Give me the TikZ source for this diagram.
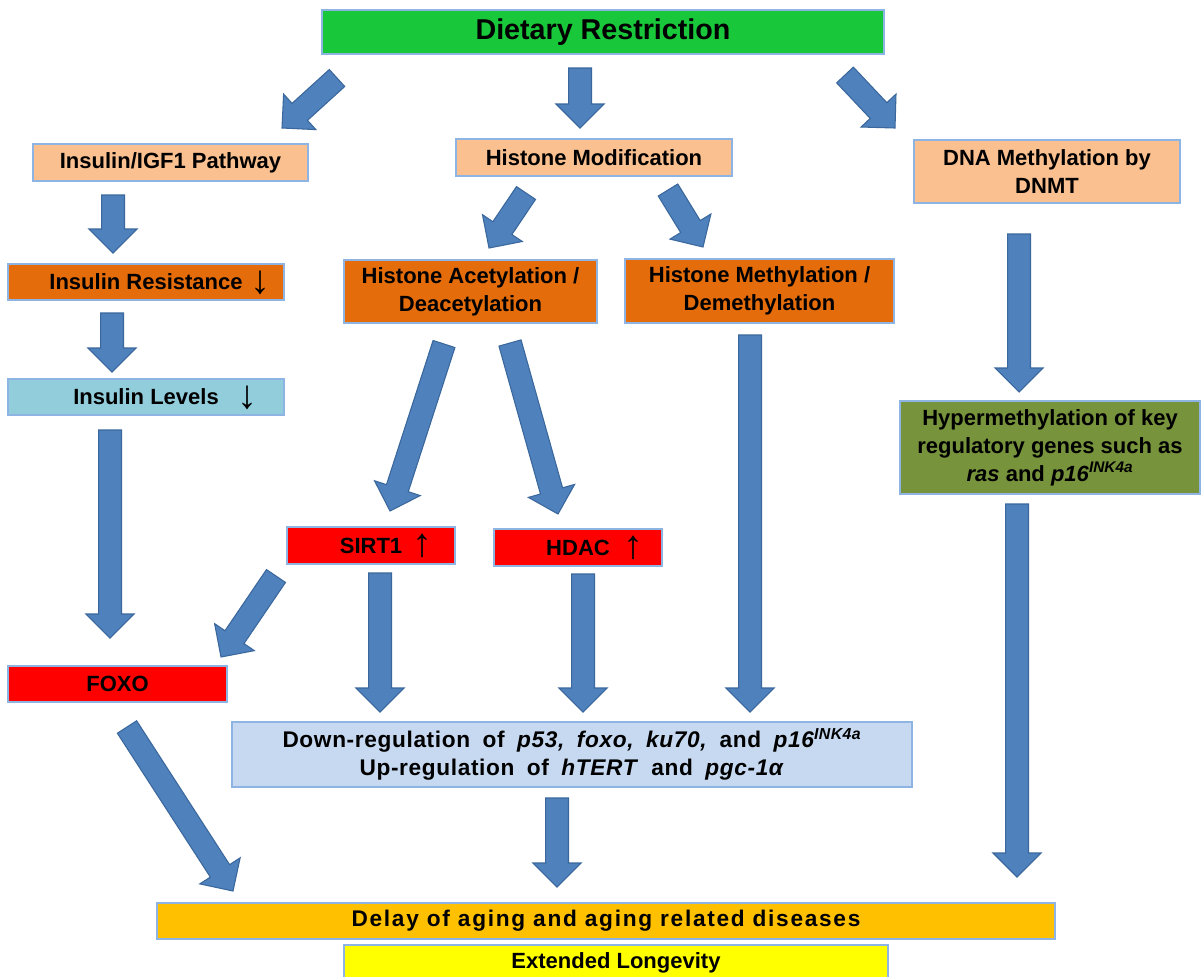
\documentclass[tikz,border=0pt]{standalone}
\usepackage{fontspec}
\setmainfont{Liberation Sans}
\newfontfamily\downfont[WordSpace=1.8,LetterSpace=2.8]{Liberation Sans}
\newfontfamily\delayfont[LetterSpace=7.5]{Liberation Sans}
\usetikzlibrary{calc}
\definecolor{drgreen}{HTML}{19C83A}
\definecolor{peach}{HTML}{FAC090}
\definecolor{orng}{HTML}{E46C0A}
\definecolor{ltblue}{HTML}{92CDDC}
\definecolor{olivegr}{HTML}{77933C}
\definecolor{redbox}{HTML}{FF0000}
\definecolor{downblue}{HTML}{C6D9F1}
\definecolor{delayc}{HTML}{FFC000}
\definecolor{extc}{HTML}{FFFF00}
\definecolor{boxedge}{HTML}{8EB4E3}
\definecolor{arrowfill}{HTML}{4F81BD}
\definecolor{arrowedge}{HTML}{3A679C}
% small up/down sign placed right of a centred label
\newcommand\updn[2]{\rlap{\hspace{#1}\smash{\raisebox{-2.5pt}{\fontsize{30pt}{30pt}\selectfont\bfseries #2}}}}
% block arrow: tail -> tip
\newcommand\barrow[2]{%
  \coordinate (bh) at ($(#2)!18pt!(#1)$);
  \draw[blockarrow] ($(#1)!8.6pt!90:(#2)$) -- ($(bh)!8.6pt!90:(#2)$) --
    ($(bh)!18pt!90:(#2)$) -- (#2) -- ($(bh)!18pt!-90:(#2)$) --
    ($(bh)!8.6pt!-90:(#2)$) -- ($(#1)!8.6pt!-90:(#2)$) -- cycle;}
\begin{document}
\begin{tikzpicture}[x=0.75pt,y=-0.75pt,
  box/.style={draw=boxedge, line width=0.8pt, inner sep=0pt,
    font=\bfseries\fontsize{16.5pt}{21pt}\selectfont},
  sz/.style 2 args={minimum width=#1*0.75pt, minimum height=#2*0.75pt},
  blockarrow/.style={fill=arrowfill, draw=arrowedge, line width=0.8pt, line join=miter}]
\useasboundingbox (0,0) rectangle (1201,976);
\clip (0,0) rectangle (1201,976);
\fill[white] (0,0) rectangle (1201,976);

% boxes (centre, width, height in px)
\node[box, fill=drgreen, sz={562}{44}, font=\bfseries\fontsize{21.5pt}{24pt}\selectfont] (dr) at (603,32) {Dietary Restriction};
\node[box, fill=peach, sz={275}{37}] (ins) at (170.5,162.5) {Insulin/IGF1 Pathway};
\node[box, fill=peach, sz={276}{37}] (hm) at (594,157.5) {Histone Modification};
\node[box, fill=peach, sz={266}{63}, align=center] (dna) at (1047,171.5) {DNA Methylation by\\DNMT};
\node[box, fill=orng, sz={276}{36}] (res) at (146,282) {Insulin Resistance\updn{6pt}{↓}};
\node[box, fill=ltblue, sz={276}{36}] (lev) at (146,397) {Insulin Levels\updn{14pt}{↓}};
\node[box, fill=orng, sz={253}{63}, align=center] (acet) at (470.5,291.5) {Histone Acetylation /\\Deacetylation};
\node[box, fill=orng, sz={269}{64}, align=center] (meth) at (759.5,291) {Histone Methylation /\\Demethylation};
\node[box, fill=olivegr, sz={300}{93}, align=center] (hyper) at (1050,447.5) {Hypermethylation of key\\regulatory genes such as\\\textit{ras} and \textit{p16}\textsuperscript{\textit{INK4a}}};
\node[box, fill=redbox, sz={168}{37}] (sirt) at (371,545.5) {SIRT1\updn{8pt}{↑}};
\node[box, fill=redbox, sz={168}{37}] (hdac) at (578,547.5) {HDAC\updn{10pt}{↑}};
\node[box, fill=redbox, sz={219}{36}] (foxo) at (117.5,684) {FOXO};
\node[box, fill=downblue, sz={680}{65}, align=center, font=\downfont\bfseries\fontsize{17pt}{21pt}\selectfont] (down) at (572,754.5) {Down-regulation of \textit{p53, foxo, ku70,} and \textit{p16\textsuperscript{INK4a}}\\Up-regulation of \textit{hTERT} and \textit{pgc-1α}};
\node[box, fill=delayc, sz={898}{36}, font=\delayfont\bfseries\fontsize{17pt}{21pt}\selectfont] (delay) at (606,921) {Delay of aging and aging related diseases};
\node[box, fill=extc, sz={544}{36}] (ext) at (616,963) {Extended Longevity};

% arrow end points
\coordinate (a1t) at (337,78);   \coordinate (a1h) at (282,128);
\coordinate (a2t) at (580,68);   \coordinate (a2h) at (580,128);
\coordinate (a3t) at (845,75);   \coordinate (a3h) at (895,128);
\coordinate (a4t) at (113,195);  \coordinate (a4h) at (113,253);
\coordinate (a5t) at (112,313);  \coordinate (a5h) at (112,372);
\coordinate (a6t) at (110,430);  \coordinate (a6h) at (110,638);
\coordinate (a7t) at (526,193);  \coordinate (a7h) at (489,248);
\coordinate (a8t) at (668,190);  \coordinate (a8h) at (703,247);
\coordinate (a9t) at (444,344);  \coordinate (a9h) at (390,511);
\coordinate (a10t) at (510,343); \coordinate (a10h) at (558,514);
\coordinate (a11t) at (750,335); \coordinate (a11h) at (750,712);
\coordinate (a12t) at (1019,234);\coordinate (a12h) at (1019,392);
\coordinate (a13t) at (1017,504);\coordinate (a13h) at (1017,877);
\coordinate (a14t) at (276,576); \coordinate (a14h) at (221,657);
\coordinate (a15t) at (380,573); \coordinate (a15h) at (380,712);
\coordinate (a16t) at (583,574); \coordinate (a16h) at (583,712);
\coordinate (a17t) at (127,727); \coordinate (a17h) at (233,891);
\coordinate (a18t) at (557,798); \coordinate (a18h) at (557,887);

\barrow{a1t}{a1h}
\barrow{a2t}{a2h}
\barrow{a3t}{a3h}
\barrow{a4t}{a4h}
\barrow{a5t}{a5h}
\barrow{a6t}{a6h}
\barrow{a7t}{a7h}
\barrow{a8t}{a8h}
\barrow{a9t}{a9h}
\barrow{a10t}{a10h}
\barrow{a11t}{a11h}
\barrow{a12t}{a12h}
\barrow{a13t}{a13h}
\barrow{a14t}{a14h}
\barrow{a15t}{a15h}
\barrow{a16t}{a16h}
\barrow{a17t}{a17h}
\barrow{a18t}{a18h}
\end{tikzpicture}
\end{document}
